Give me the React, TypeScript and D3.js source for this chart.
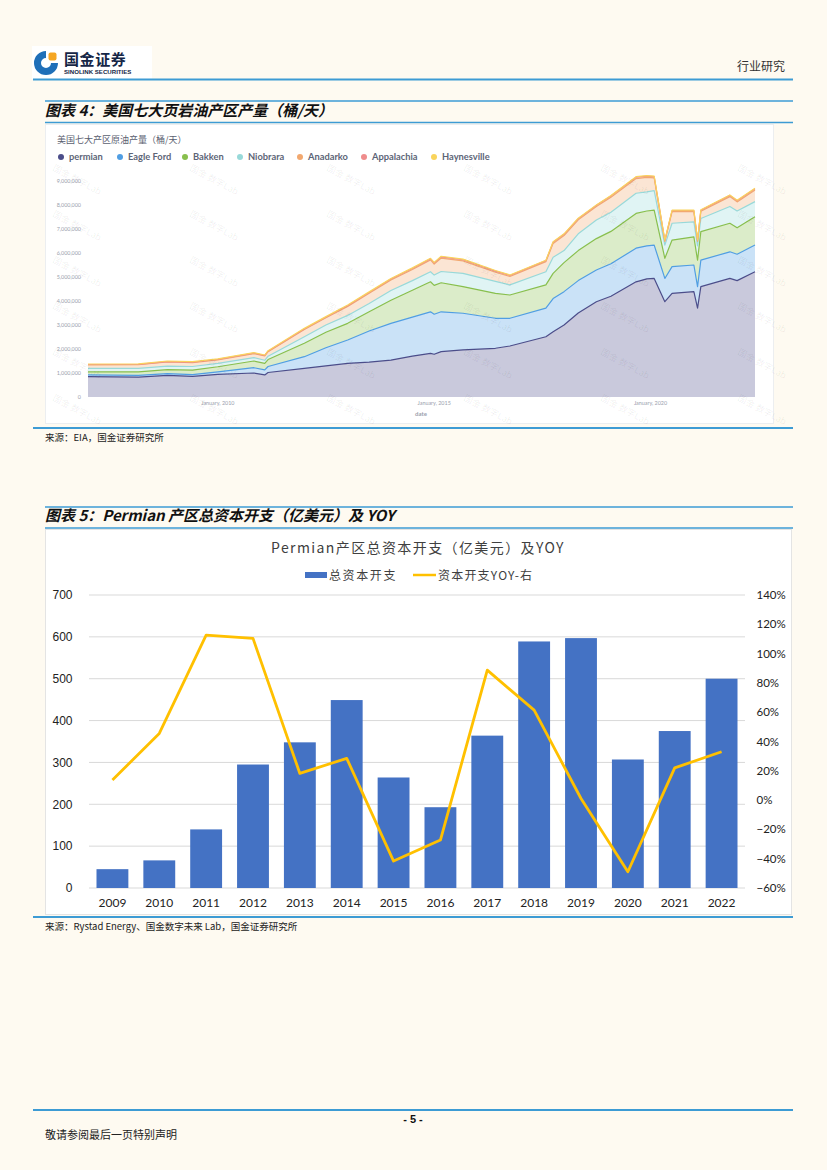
import { useMemo } from "react";
import * as d3 from "d3";

// ---- 图表4: 美国七大页岩油产区产量 (thousand b/d) ----
const months = [
  "2007-01", "2008-03", "2008-11", "2009-06", "2010-01", "2010-11", "2011-02", "2011-03",
  "2012-01", "2012-07", "2013-01", "2013-07", "2014-01", "2014-07", "2014-12", "2015-01",
  "2015-03", "2015-09", "2016-06", "2016-10", "2017-08", "2017-10", "2018-01", "2018-05",
  "2018-10", "2019-02", "2019-09", "2019-12", "2020-02", "2020-05", "2020-07", "2021-01",
  "2021-02", "2021-03", "2021-11", "2022-01", "2022-06",
];
const permian = [
  850, 830, 900, 860, 940, 1000, 920, 1020, 1190, 1300, 1400, 1450, 1540, 1700, 1820, 1780,
  1890, 1960, 2030, 2125, 2510, 2720, 3000, 3500, 3970, 4200, 4800, 4920, 4940, 3970, 4320, 4390,
  3700, 4600, 4940, 4850, 5220,
];
const eagleFord = [
  70, 70, 70, 70, 110, 220, 210, 250, 490, 750, 975, 1300, 1530, 1630, 1730, 1670,
  1660, 1530, 1250, 1155, 1190, 1380, 1390, 1350, 1320, 1350, 1400, 1380, 1390, 970, 1110, 1110,
  900, 1100, 1110, 1100, 1110,
];
const bakken = [
  130, 150, 170, 190, 210, 280, 270, 290, 560, 650, 695, 800, 960, 1120, 1250, 1200,
  1210, 1110, 1040, 970, 970, 1050, 1210, 1250, 1310, 1350, 1450, 1450, 1460, 840, 1110, 1170,
  1100, 1190, 1190, 1100, 1180,
];
const niobrara = [
  140, 140, 150, 150, 140, 140, 130, 140, 270, 300, 330, 350, 410, 400, 420, 430,
  470, 550, 500, 420, 550, 670, 500, 700, 775, 800, 840, 800, 810, 550, 700, 630,
  600, 550, 700, 700, 630,
];
const anadarko = [
  150, 155, 170, 160, 150, 170, 180, 190, 300, 300, 375, 420, 435, 460, 490, 460,
  560, 520, 380, 350, 420, 580, 630, 580, 560, 620, 610, 600, 530, 150, 480, 420,
  180, 300, 410, 380, 490,
];
const appalachia = [
  15, 15, 18, 18, 18, 20, 20, 20, 25, 25, 30, 35, 40, 45, 45, 45,
  50, 50, 45, 45, 40, 50, 50, 50, 50, 60, 60, 50, 50, 40, 50, 50,
  40, 40, 50, 50, 50,
];
const haynesville = [
  20, 20, 22, 22, 22, 20, 20, 20, 25, 25, 25, 25, 25, 25, 25, 25,
  25, 25, 25, 20, 20, 20, 20, 20, 20, 20, 20, 20, 20, 20, 20, 20,
  20, 20, 20, 20, 20,
];
const regionNames = ["permian", "Eagle Ford", "Bakken", "Niobrara", "Anadarko", "Appalachia", "Haynesville"];
const regionColors = ["#4b4d8a", "#509ee3", "#88bf4d", "#98d9d9", "#f2a86f", "#ef8c8c", "#f9d45c"];
const prodTicks = [0, 1e6, 2e6, 3e6, 4e6, 5e6, 6e6, 7e6, 8e6, 9e6];
const prodDateTicks = ["2010-01", "2015-01", "2020-01"];

// ---- 图表5: Permian 产区总资本开支 (亿美元) 及 YOY ----
const capexYears = ["2009", "2010", "2011", "2012", "2013", "2014", "2015", "2016", "2017", "2018", "2019", "2020", "2021", "2022"];
const capex = [45, 66, 140, 295, 348, 449, 264, 193, 364, 589, 597, 307, 375, 500];
const capexYoy = [13.7, 45.5, 112.6, 110.4, 18.2, 28.5, -41.6, -27.3, 88.7, 61.4, 1.1, -48.9, 22, 33];
const capexTicks = [0, 100, 200, 300, 400, 500, 600, 700];
const yoyTicks = [-60, -40, -20, 0, 20, 40, 60, 80, 100, 120, 140];

const CJK = "'Noto Sans CJK SC', 'Noto Sans', sans-serif";
const BLUE_RULE = "#3d9bd4";

function ProductionChart() {
  const parse = d3.timeParse("%Y-%m");
  const rows = useMemo(
    () =>
      months.map((m, i) => ({
        date: parse(m) as Date,
        v: [permian[i], eagleFord[i], bakken[i], niobrara[i], anadarko[i], appalachia[i], haynesville[i]].map((d) => d * 1000),
      })),
    [],
  );

  const x = d3.scaleTime().domain([parse("2007-01") as Date, parse("2022-06") as Date]).range([88, 755]);
  const y = d3.scaleLinear().domain([0, 9e6]).range([397, 181]);

  const stack = d3
    .stack<(typeof rows)[number], number>()
    .keys(regionNames.map((_, i) => i))
    .value((d, k) => d.v[k]);
  const series = stack(rows);

  const area = d3
    .area<d3.SeriesPoint<(typeof rows)[number]>>()
    .x((d) => x(d.data.date))
    .y0((d) => y(d[0]))
    .y1((d) => y(d[1]));
  const line = d3
    .line<d3.SeriesPoint<(typeof rows)[number]>>()
    .x((d) => x(d.data.date))
    .y((d) => y(d[1]));

  const legendX = [61, 120, 185, 240, 300, 364, 434];
  const fmt = d3.format(",");

  // faint "国金 数字Lab" watermark tiles
  const marks: Array<[number, number]> = [];
  for (let r = 0; r < 6; r++) for (let c = 0; c < 6; c++) marks.push([52 + c * 137, 170 + r * 46]);

  return (
    <g>
      <rect x={45.5} y={124.5} width={728} height={299} fill="#fff" stroke="#eceef0" />
      <text x={57} y={143} fontFamily={CJK} fontSize={9} fill="#5a6070">
        美国七大产区原油产量（桶/天）
      </text>
      {regionNames.map((n, i) => (
        <g key={n}>
          <circle cx={legendX[i]} cy={157} r={3} fill={regionColors[i]} />
          <text x={legendX[i] + 8} y={160.3} fontFamily="Lato, sans-serif" fontWeight={700} fontSize={9.3} fill="#5d6577">
            {n}
          </text>
        </g>
      ))}
      {prodTicks.map((t) => (
        <text key={t} x={81} y={y(t) + 2} textAnchor="end" fontFamily="Lato, sans-serif" fontSize={5.4} fill="#9aa0ad">
          {fmt(t)}
        </text>
      ))}
      {series.map((s, i) => (
        <path key={"a" + i} d={area(s) ?? ""} fill={regionColors[i]} fillOpacity={0.3} />
      ))}
      {series.map((s, i) => (
        <path key={"l" + i} d={line(s) ?? ""} fill="none" stroke={regionColors[i]} strokeWidth={1.2} strokeLinejoin="round" />
      ))}
      {prodDateTicks.map((t) => {
        const d = parse(t) as Date;
        return (
          <text key={t} x={x(d)} y={405} textAnchor="middle" fontFamily="Lato, sans-serif" fontSize={5.4} fill="#9aa0ad">
            {`January, ${d.getFullYear()}`}
          </text>
        );
      })}
      <text x={421} y={416} textAnchor="middle" fontFamily="Lato, sans-serif" fontSize={6} fontWeight={700} fill="#9aa0ad">
        date
      </text>
      {marks.map(([mx, my], i) => (
        <text
          key={"w" + i}
          x={mx}
          y={my}
          transform={`rotate(28 ${mx} ${my})`}
          fontFamily={CJK}
          fontSize={9}
          fill="#000"
          fillOpacity={0.07}
        >
          国金 数字Lab
        </text>
      ))}
    </g>
  );
}

function CapexChart() {
  const x = d3.scaleBand<string>().domain(capexYears).range([89, 745]).paddingInner(0.32).paddingOuter(0.16);
  const yL = d3.scaleLinear().domain([0, 700]).range([888, 595]);
  const yR = d3.scaleLinear().domain([-60, 140]).range([888, 595]);
  const yoyLine = d3
    .line<number>()
    .x((_, i) => (x(capexYears[i]) ?? 0) + x.bandwidth() / 2)
    .y((d) => yR(d));

  return (
    <g>
      <rect x={45.5} y={529.5} width={746} height={385} fill="#fff" stroke="#e4e4e4" />
      <text x={418} y={553} textAnchor="middle" fontFamily={CJK} fontSize={14} letterSpacing={1.4} fill="#404040">
        Permian产区总资本开支（亿美元）及YOY
      </text>
      <rect x={305} y={572} width={22} height={6} fill="#4472c4" />
      <text x={329} y={579.5} fontFamily={CJK} fontSize={12} letterSpacing={1.6} fill="#404040">
        总资本开支
      </text>
      <line x1={413} x2={436} y1={575} y2={575} stroke="#ffc000" strokeWidth={2.5} />
      <text x={438} y={579.5} fontFamily={CJK} fontSize={12} letterSpacing={1.2} fill="#404040">
        资本开支YOY-右
      </text>
      {capexTicks.map((t) => (
        <g key={t}>
          <line x1={89} x2={745} y1={yL(t)} y2={yL(t)} stroke="#d9d9d9" strokeWidth={1} />
          <text x={72.5} y={yL(t) + 4.3} textAnchor="end" fontFamily="'Liberation Sans', Arial, sans-serif" fontSize={12} fill="#222">
            {t}
          </text>
        </g>
      ))}
      {yoyTicks.map((t) => (
        <text key={t} x={756.5} y={yR(t) + 4} fontFamily="Lato, sans-serif" fontSize={11.5} fill="#222">
          {`${t < 0 ? "\u2212" + Math.abs(t) : t}%`}
        </text>
      ))}
      {capex.map((v, i) => (
        <rect key={capexYears[i]} x={x(capexYears[i])} y={yL(v)} width={x.bandwidth()} height={yL(0) - yL(v)} fill="#4472c4" />
      ))}
      <path d={yoyLine(capexYoy) ?? ""} fill="none" stroke="#ffc000" strokeWidth={2.8} strokeLinejoin="round" />
      {capexYears.map((yr) => (
        <text key={yr} x={(x(yr) ?? 0) + x.bandwidth() / 2} y={906.5} textAnchor="middle" fontFamily="Lato, sans-serif" fontSize={12} fill="#222">
          {yr}
        </text>
      ))}
    </g>
  );
}

function Logo() {
  const ring = d3.arc()({ innerRadius: 5, outerRadius: 12, startAngle: Math.PI / 2, endAngle: Math.PI * 2 }) ?? "";
  return (
    <g>
      <rect x={32} y={46} width={120} height={33} fill="#fff" />
      <path d={ring} transform="translate(46 63)" fill="#1f6fb8" />
      <rect x={48.5} y={52.5} width={8} height={8} rx={2} fill="#f5a623" />
      <text x={64} y={65} fontFamily={CJK} fontWeight={700} fontSize={15} letterSpacing={0.6} fill="#152646">
        国金证券
      </text>
      <text x={64} y={74} fontFamily="'Liberation Sans', Arial, sans-serif" fontWeight={700} fontSize={6.1} fill="#152646">
        SINOLINK SECURITIES
      </text>
    </g>
  );
}

export default function App() {
  return (
    <svg width={827} height={1170} style={{ position: "absolute", left: 0, top: 0, display: "block" }}>
      <rect width={827} height={1170} fill="#fefaf1" />

      {/* header */}
      <Logo />
      <text x={785} y={71} textAnchor="end" fontFamily={CJK} fontSize={12} fill="#333">
        行业研究
      </text>
      <line x1={33} x2={793} y1={79.5} y2={79.5} stroke={BLUE_RULE} strokeWidth={1.8} />

      {/* 图表4 */}
      <line x1={45} x2={793} y1={101} y2={101} stroke={BLUE_RULE} strokeWidth={1.5} />
      <text x={45} y={115.5} fontFamily={CJK} fontWeight={700} fontStyle="italic" fontSize={15} fill="#111">
        图表 4：美国七大页岩油产区产量（桶/天）
      </text>
      <line x1={45} x2={793} y1={122.5} y2={122.5} stroke={BLUE_RULE} strokeWidth={1.5} />
      <ProductionChart />
      <line x1={33} x2={793} y1={428} y2={428} stroke={BLUE_RULE} strokeWidth={1.8} />
      <text x={45} y={440.5} fontFamily={CJK} fontSize={9.5} fill="#222">
        来源：EIA，国金证券研究所
      </text>

      {/* 图表5 */}
      <line x1={45} x2={793} y1={507} y2={507} stroke={BLUE_RULE} strokeWidth={1.5} />
      <text x={45} y={521} fontFamily={CJK} fontWeight={700} fontStyle="italic" fontSize={15} fill="#111">
        图表 5：Permian 产区总资本开支（亿美元）及 YOY
      </text>
      <line x1={45} x2={793} y1={528} y2={528} stroke={BLUE_RULE} strokeWidth={1.5} />
      <CapexChart />
      <line x1={33} x2={793} y1={917} y2={917} stroke={BLUE_RULE} strokeWidth={1.8} />
      <text x={45} y={929.5} fontFamily={CJK} fontSize={9.5} fill="#222">
        来源：Rystad Energy、国金数字未来 Lab，国金证券研究所
      </text>

      {/* footer */}
      <line x1={33} x2={793} y1={1110} y2={1110} stroke={BLUE_RULE} strokeWidth={1.8} />
      <text x={413} y={1123} textAnchor="middle" fontFamily="'Liberation Sans', Arial, sans-serif" fontWeight={700} fontSize={11} fill="#111">
        - 5 -
      </text>
      <text x={45} y={1139} fontFamily={CJK} fontSize={11} fill="#222">
        敬请参阅最后一页特别声明
      </text>
    </svg>
  );
}
